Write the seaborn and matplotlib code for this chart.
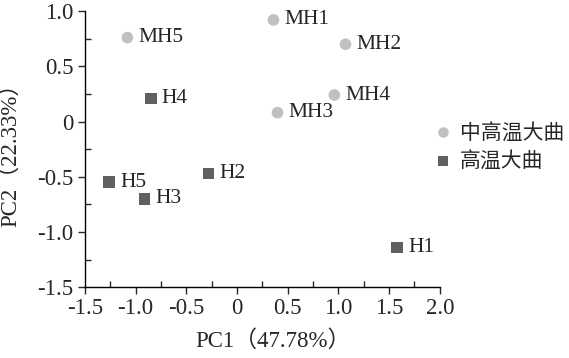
import pandas as pd
import matplotlib
matplotlib.use("Agg")
import matplotlib.pyplot as plt
from matplotlib.ticker import MultipleLocator, FuncFormatter
import seaborn as sns

# PCA scores
samples = ['MH1', 'MH2', 'MH3', 'MH4', 'MH5', 'H1', 'H2', 'H3', 'H4', 'H5']
pc1 = [0.36, 1.07, 0.40, 0.96, -1.08, 1.58, -0.28, -0.91, -0.85, -1.26]
pc2 = [0.92, 0.70, 0.08, 0.24, 0.76, -1.14, -0.47, -0.70, 0.21, -0.55]
groups = ['中高温大曲'] * 5 + ['高温大曲'] * 5

df = pd.DataFrame({'PC1': pc1, 'PC2': pc2, 'sample': samples, 'group': groups})

sns.set_style('white')
plt.rcParams['font.family'] = ['Liberation Serif', 'Noto Sans CJK SC', 'DejaVu Sans']
plt.rcParams['font.size'] = 16

fig = plt.figure(figsize=(5.69, 3.58), dpi=100)
ax = fig.add_axes([0.149, 0.198, 0.624, 0.771])

palette = {'中高温大曲': '#c0c0c0', '高温大曲': '#606060'}
markers = {'中高温大曲': 'o', '高温大曲': 's'}
sns.scatterplot(data=df, x='PC1', y='PC2', hue='group', style='group',
                palette=palette, markers=markers, s=70, linewidth=0, ax=ax)

for x, y, t in zip(pc1, pc2, samples):
    ax.annotate(t, (x, y), xytext=(8, 0), textcoords='offset points',
                va='center', ha='left', fontsize=15.5)

ax.set_xlim(-1.5, 2.0)
ax.set_ylim(-1.5, 1.0)
ax.xaxis.set_major_locator(MultipleLocator(0.5))
ax.yaxis.set_major_locator(MultipleLocator(0.5))
ax.xaxis.set_minor_locator(MultipleLocator(0.25))
ax.yaxis.set_minor_locator(MultipleLocator(0.25))
fmt = FuncFormatter(lambda v, p: '0' if abs(v) < 1e-9 else f'{v:.1f}')
ax.xaxis.set_major_formatter(fmt)
ax.yaxis.set_major_formatter(fmt)
ax.tick_params(which='major', direction='out', length=5, width=1, labelsize=16.5,
               bottom=True, left=True, pad=3)
ax.tick_params(which='minor', direction='in', length=4, width=1,
               bottom=True, left=True)
for s in ['top', 'right']:
    ax.spines[s].set_visible(False)
for s in ['left', 'bottom']:
    ax.spines[s].set_color('black')
    ax.spines[s].set_linewidth(1)

ax.set_xlabel('PC1（47.78%）', fontsize=16.5)
ax.set_ylabel('PC2（22.33%）', fontsize=16.5, labelpad=12)
ax.xaxis.set_label_coords(0.53, -0.155)

leg = ax.legend(loc='center left', bbox_to_anchor=(0.985, 0.505), frameon=False,
                fontsize=15, handletextpad=0.4, handlelength=0.8, borderpad=0,
                labelspacing=0.3, borderaxespad=0, markerscale=0.9)
for txt in leg.get_texts():
    txt.set_family(['Noto Sans CJK SC', 'DejaVu Sans'])

fig.savefig('out.png', dpi=100)
